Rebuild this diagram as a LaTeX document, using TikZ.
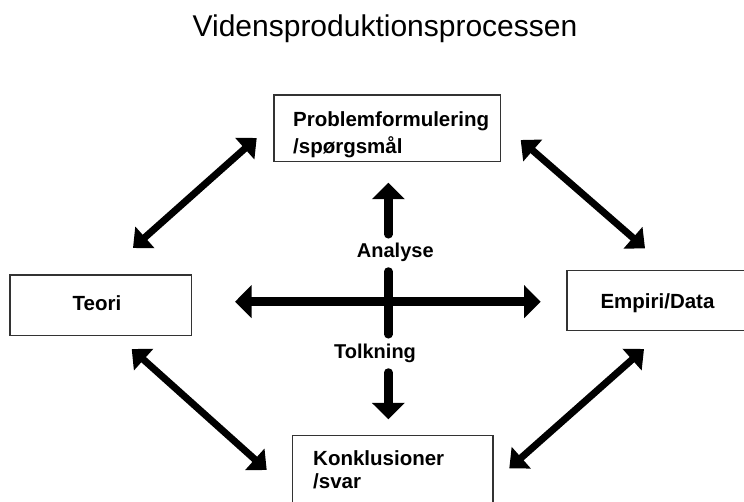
\documentclass[tikz,border=0pt]{standalone}
\usepackage{fontspec}
\setmainfont{Liberation Sans}
\usetikzlibrary{arrows.meta}

\begin{document}
\begin{tikzpicture}[x=1pt, y=-1pt,
  box/.style={draw=black!80, line width=1.4pt, inner sep=0pt},
  lbl/.style={font=\bfseries\fontsize{20.5}{26}\selectfont, inner sep=0pt},
  clbl/.style={font=\bfseries\fontsize{20}{24}\selectfont, inner sep=0pt},
  hbar/.style={line width=9pt, {Triangle[width=32pt,length=16.5pt]}-{Triangle[width=32pt,length=16.5pt]}},
  vbar/.style={line width=8.5pt, line cap=round},
  vtip/.style={vbar, -{Triangle[width=32pt,length=16.5pt]}},
  diag/.style={line width=7pt, {Triangle[width=28pt,length=16pt]}-{Triangle[width=28pt,length=16pt]}}
]
\useasboundingbox (0,0) rectangle (744,501);

% title
\node[anchor=base, inner sep=0pt, font=\fontsize{30}{36}\selectfont] (title) at (385,36) {Vidensproduktionsprocessen};

% boxes
\node[box, minimum width=226.7pt, minimum height=66.7pt] (pbox) at (387.35,128.35) {};
\node[box, minimum width=181.7pt, minimum height=60.7pt] (tbox) at (100.85,305.35) {};
\node[box, minimum width=181pt, minimum height=60pt] (ebox) at (657.5,300.7) {};
\node[box, minimum width=200.3pt, minimum height=74.3pt] (kbox) at (392.85,472.85) {};

% box texts
\node[lbl, anchor=base west] (ptxt) at (293,126.7)
  {\fontsize{20.5}{26.6}\selectfont\begin{tabular}[t]{@{}l@{}}Problemformulering\\/spørgsmål\end{tabular}};
\node[lbl, anchor=base] (ttxt) at (97,310) {Teori};
\node[lbl, anchor=base] (etxt) at (657.5,308.5) {Empiri/Data};
\node[lbl, anchor=base west] (ktxt) at (313,465)
  {\fontsize{20.5}{23.3}\selectfont\begin{tabular}[t]{@{}l@{}}Konklusioner\\/svar\end{tabular}};

% centre labels
\node[clbl, anchor=base] (analyse) at (395.3,257.3) {Analyse};
\node[clbl, anchor=base] (tolkning) at (375,358.3) {Tolkning};

% centre cross
\coordinate (hl) at (235,301.7);
\coordinate (hr) at (540.7,301.7);
\draw[hbar] (hl) -- (hr);

\coordinate (upbot) at (388.3,234.3);
\coordinate (uptip) at (388.3,182.7);
\draw[vtip] (upbot) -- (uptip);

\coordinate (midtop) at (388.3,271.5);
\coordinate (midbot) at (388.3,334.3);
\draw[vbar] (midtop) -- (midbot);

\coordinate (dntop) at (388.3,372.5);
\coordinate (dntip) at (388.3,419.3);
\draw[vtip] (dntop) -- (dntip);

% diagonal links between the boxes
\coordinate (tl1) at (133,248);
\coordinate (tl2) at (256.7,138);
\draw[diag] (tl1) -- (tl2);

\coordinate (tr1) at (520.7,140);
\coordinate (tr2) at (645,248.3);
\draw[diag] (tr1) -- (tr2);

\coordinate (bl1) at (131.7,349);
\coordinate (bl2) at (266.7,470);
\draw[diag] (bl1) -- (bl2);

\coordinate (br1) at (644,349);
\coordinate (br2) at (509.3,468.3);
\draw[diag] (br1) -- (br2);
\end{tikzpicture}
\end{document}
